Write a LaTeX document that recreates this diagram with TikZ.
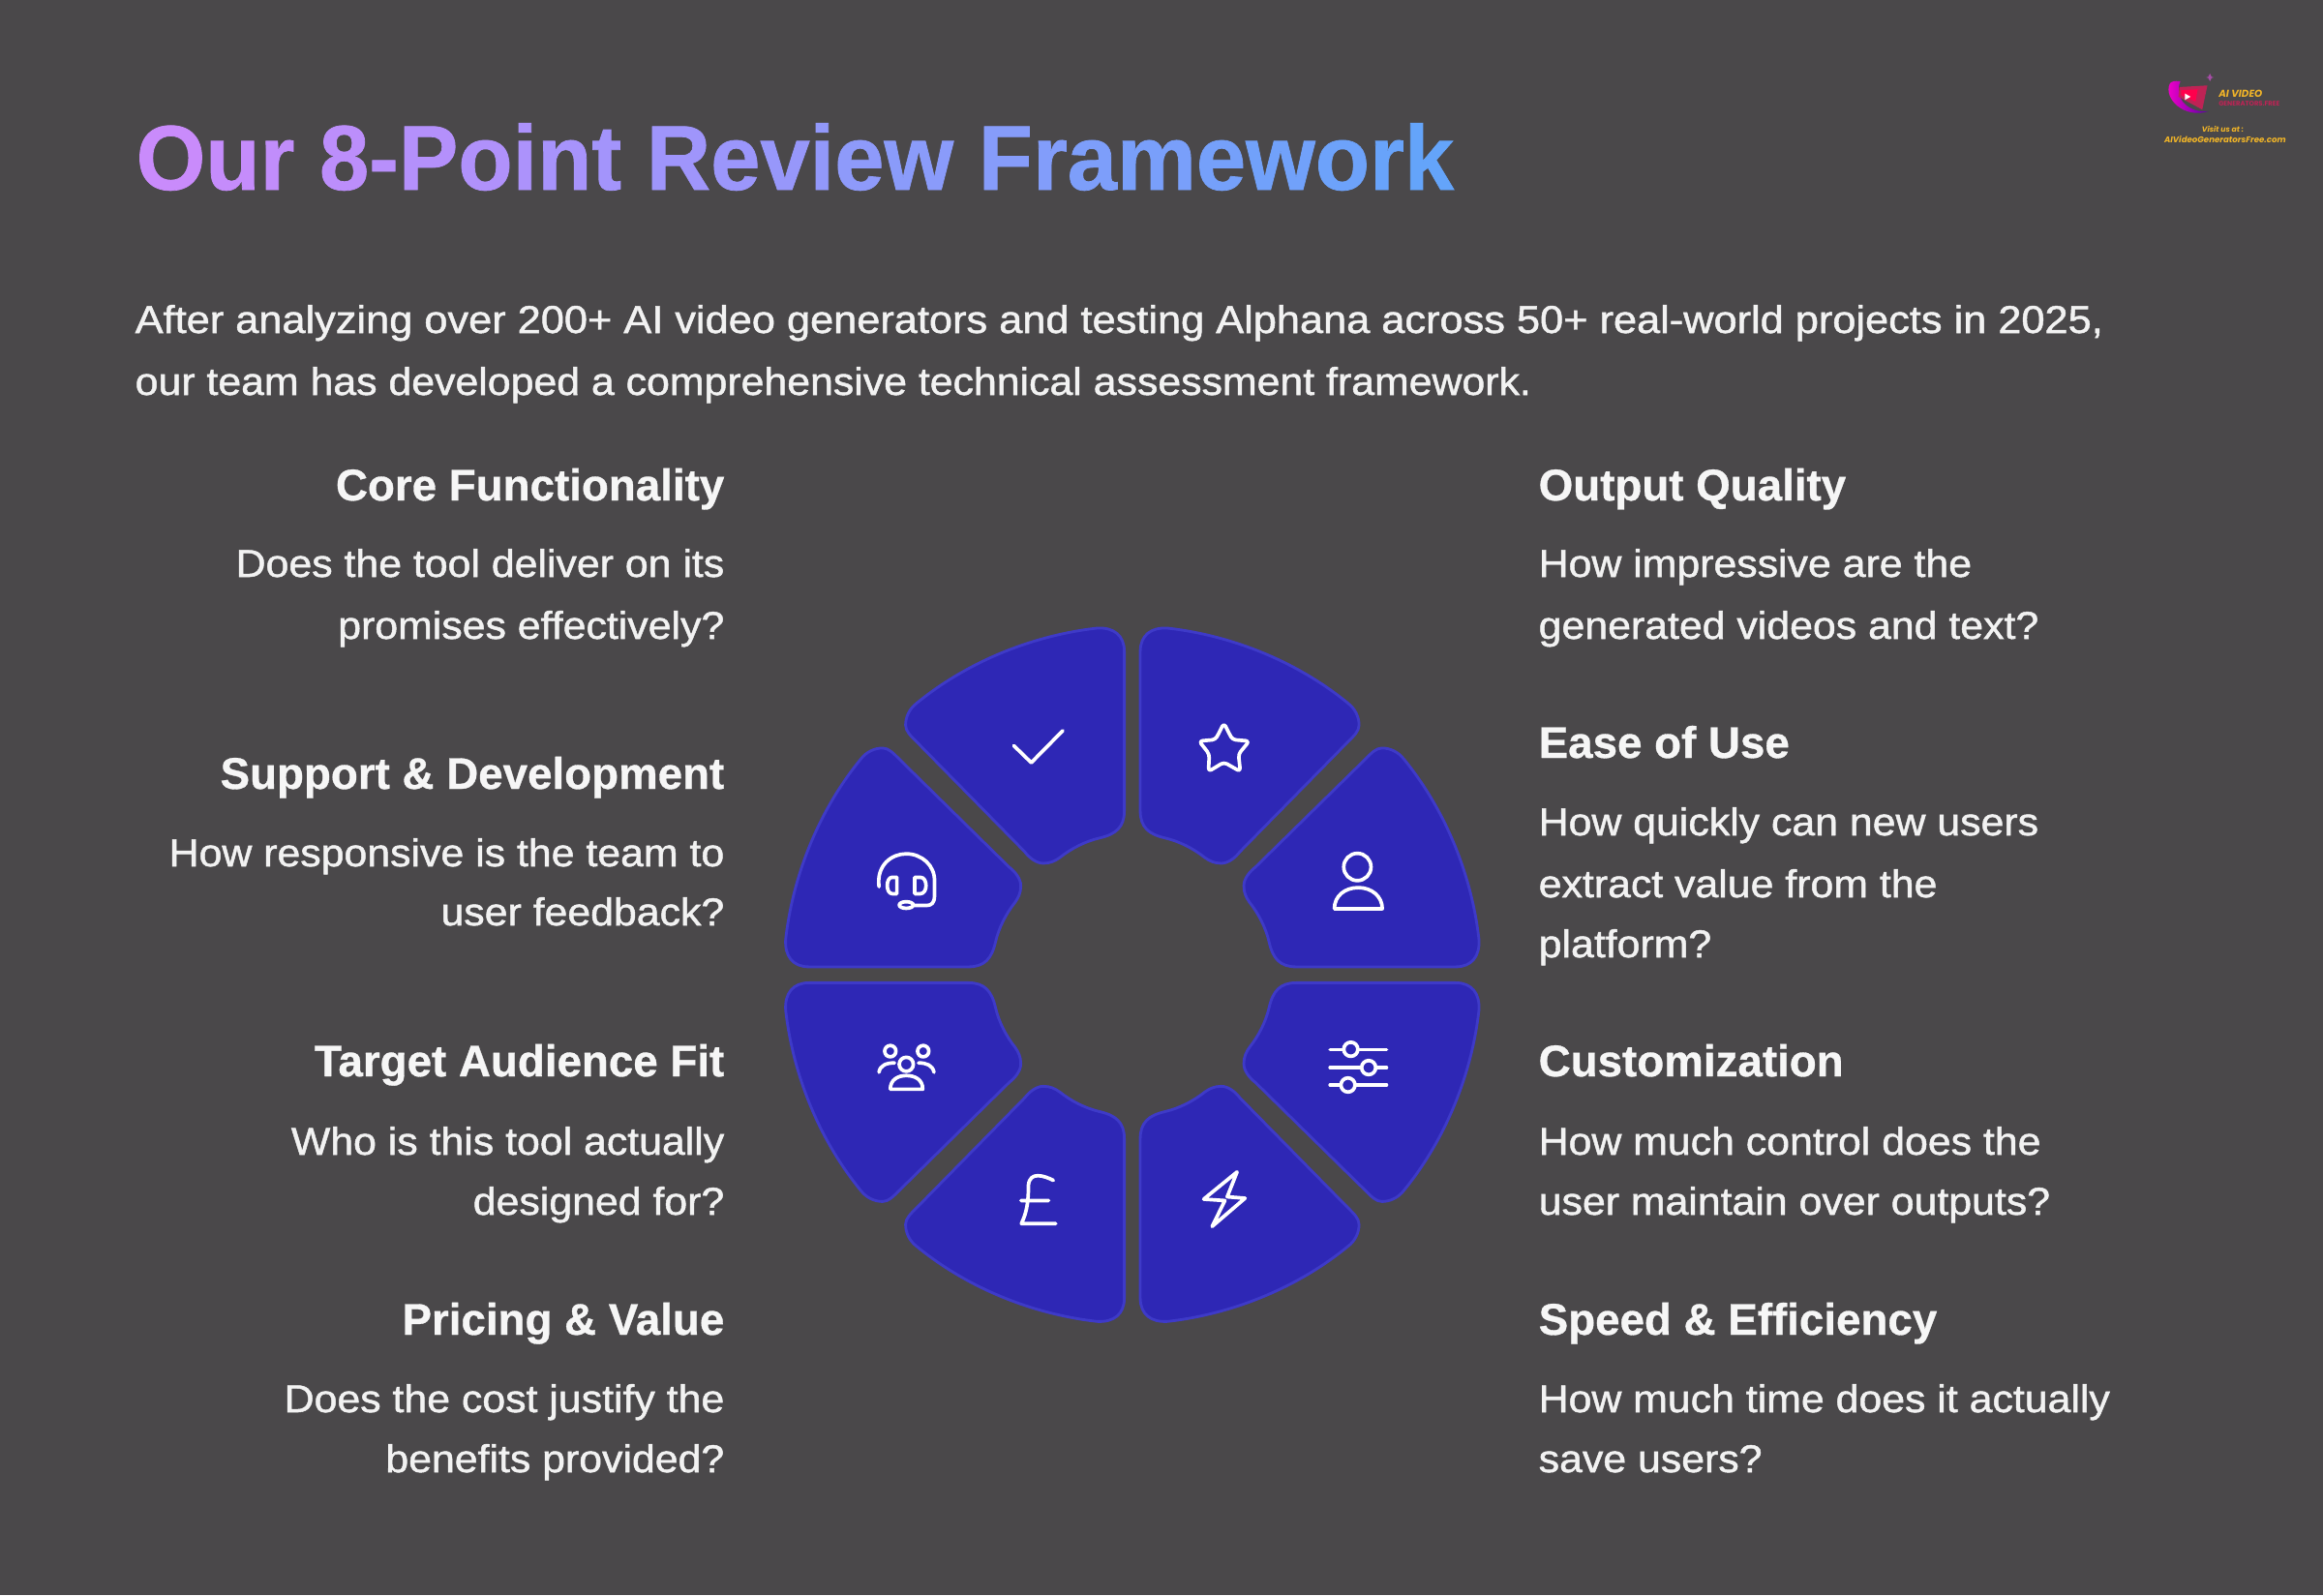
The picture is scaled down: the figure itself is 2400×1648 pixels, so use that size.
\documentclass[tikz,border=0pt]{standalone}
\usepackage{fontspec}
\setmainfont{Liberation Sans}
\newfontfamily\bodyf[FakeBold=1.2,FakeStretch=1.07]{Liberation Sans}
\newfontfamily\introf[FakeBold=1.2,FakeStretch=1.083]{Liberation Sans}
\newfontfamily\headf[FakeBold=0.7]{Liberation Sans Bold}
\newfontfamily\titlef[FakeBold=0.8,FakeStretch=0.97]{Liberation Sans Bold}
\newfontfamily\logof{Poppins}
\definecolor{bgc}{RGB}{74,72,74}
\definecolor{segfill}{RGB}{46,39,181}
\definecolor{segline}{RGB}{62,58,200}
\definecolor{tA}{RGB}{201,139,251}
\definecolor{tB}{RGB}{96,165,250}
\definecolor{logoy}{RGB}{240,180,40}
\definecolor{logor}{RGB}{190,35,85}
\newcount\gradcnt
\newcommand{\gl}[1]{\textcolor{tB!\the\gradcnt!tA}{#1}\global\advance\gradcnt by 4\relax}
\newcommand{\segpath}{
  \path[segstyle] (17,-690) .. controls (17,-725) and (40,-742) .. (75,-740)
   .. controls (210,-725) and (350,-670) .. (460,-580)
   .. controls (476,-568) and (484,-550) .. (484,-533)
   .. controls (484,-520) and (473,-510) .. (460,-497)
   -- (230,-263)
   .. controls (220,-250) and (205,-238) .. (190,-238)
   .. controls (175,-238) and (165,-243) .. (155,-250)
   .. controls (130,-270) and (100,-285) .. (70,-292)
   .. controls (35,-300) and (17,-315) .. (17,-350) -- cycle;}
\tikzset{
  segstyle/.style={fill=segfill,draw=segline,line width=0.8pt,line join=round},
  icon/.style={draw=white,line width=1.05pt,line cap=round,line join=round},
  bodytxt/.style={text=white!93!bgc,font=\bodyf\fontsize{11.38pt}{13pt}\selectfont,inner sep=0pt},
  headtxt/.style={text=white!95!bgc,font=\headf\fontsize{13pt}{15pt}\selectfont,inner sep=0pt},
  ltxt/.style={anchor=base east},
  rtxt/.style={anchor=base west},
  logotxt/.style={inner sep=0pt,text=logoy,font=\logof\bfseries\itshape}
}
\begin{document}
\begin{tikzpicture}[x=0.01cm,y=-0.01cm]
\fill[bgc] (0,0) rectangle (2400,1648);
\useasboundingbox (0,0) rectangle (2400,1648);
% title
\global\gradcnt=0
\node[anchor=base west,inner sep=0pt,font=\titlef\fontsize{27pt}{30pt}\selectfont] (title) at (140,196)
 {\gl{O}\gl{u}\gl{r} \gl{8}\gl{-}\gl{P}\gl{o}\gl{i}\gl{n}\gl{t} \gl{R}\gl{e}\gl{v}\gl{i}\gl{e}\gl{w} \gl{F}\gl{r}\gl{a}\gl{m}\gl{e}\gl{w}\gl{o}\gl{r}\gl{k}};
% intro
\node[bodytxt,rtxt,font=\introf\fontsize{11.38pt}{13pt}\selectfont] (introa) at (139,344) {After analyzing over 200+ AI video generators and testing Alphana across 50+ real-world projects in 2025,};
\node[bodytxt,rtxt] (introb) at (139,408) {our team has developed a comprehensive technical assessment framework.};
% left
\node[headtxt,ltxt] (h1) at (749,517) {Core Functionality};
\node[bodytxt,ltxt] (b1a) at (749,596) {Does the tool deliver on its};
\node[bodytxt,ltxt] (b1b) at (749,660) {promises effectively?};
\node[headtxt,ltxt] (h2) at (749,815) {Support \& Development};
\node[bodytxt,ltxt] (b2a) at (749,895) {How responsive is the team to};
\node[bodytxt,ltxt] (b2b) at (749,956) {user feedback?};
\node[headtxt,ltxt] (h3) at (749,1112) {Target Audience Fit};
\node[bodytxt,ltxt] (b3a) at (749,1193) {Who is this tool actually};
\node[bodytxt,ltxt] (b3b) at (749,1255) {designed for?};
\node[headtxt,ltxt] (h4) at (749,1379) {Pricing \& Value};
\node[bodytxt,ltxt] (b4a) at (749,1459) {Does the cost justify the};
\node[bodytxt,ltxt] (b4b) at (749,1521) {benefits provided?};
% right
\node[headtxt,rtxt] (h5) at (1589,517) {Output Quality};
\node[bodytxt,rtxt] (b5a) at (1589,596) {How impressive are the};
\node[bodytxt,rtxt] (b5b) at (1589,660) {generated videos and text?};
\node[headtxt,rtxt] (h6) at (1589,783) {Ease of Use};
\node[bodytxt,rtxt] (b6a) at (1589,863) {How quickly can new users};
\node[bodytxt,rtxt] (b6b) at (1589,927) {extract value from the};
\node[bodytxt,rtxt] (b6c) at (1589,989) {platform?};
\node[headtxt,rtxt] (h7) at (1589,1112) {Customization};
\node[bodytxt,rtxt] (b7a) at (1589,1193) {How much control does the};
\node[bodytxt,rtxt] (b7b) at (1589,1255) {user maintain over outputs?};
\node[headtxt,rtxt] (h8) at (1589,1379) {Speed \& Efficiency};
\node[bodytxt,rtxt] (b8a) at (1589,1459) {How much time does it actually};
\node[bodytxt,rtxt] (b8b) at (1589,1521) {save users?};
% wheel
\begin{scope}[shift={(780,620)},x=0.004847cm,y=-0.004847cm]
 \begin{scope}[shift={(803,797.5)},scale=0.997]
  \begin{scope} \segpath \end{scope}
  \begin{scope}[xscale=-1] \segpath \end{scope}
  \begin{scope}[yscale=-1] \segpath \end{scope}
  \begin{scope}[xscale=-1,yscale=-1] \segpath \end{scope}
  \begin{scope}[cm={0,1,1,0,(0,0)}] \segpath \end{scope}
  \begin{scope}[cm={0,-1,1,0,(0,0)}] \segpath \end{scope}
  \begin{scope}[cm={0,1,-1,0,(0,0)}] \segpath \end{scope}
  \begin{scope}[cm={0,-1,-1,0,(0,0)}] \segpath \end{scope}
 \end{scope}
 % check
 \draw[icon] (551,310) -- (588,346) -- (655,278);
 % star
 \draw[icon,rounded corners=1pt] (998,262) -- (1016,297) -- (1052,300) -- (1029,328) -- (1033,365) -- (998,345) -- (965,365) -- (967,328) -- (945,300) -- (980,297) -- cycle;
 % person
 \draw[icon] (1282,568) circle[radius=29];
 \draw[icon] (1233,657) -- (1335,657) .. controls (1335,630) and (1312,612) .. (1284,612) .. controls (1255,612) and (1233,630) .. (1233,657);
 % sliders
 \draw[icon] (1224,957) -- (1344,957) (1224,995) -- (1344,995) (1224,1032) -- (1344,1032);
 \draw[icon,fill=segfill] (1268,956) circle[radius=15] (1306,995) circle[radius=15] (1262,1032) circle[radius=15];
 % bolt
 \draw[icon] (1026,1217) -- (955,1275) -- (1000,1278) -- (973,1333) -- (1043,1273) -- (1005,1270) -- cycle;
 % pound
 \draw[icon] (635,1235) .. controls (615,1225) and (585,1215) .. (582,1245) .. controls (582,1275) and (580,1300) .. (567,1327) -- (640,1327) (566,1278) -- (625,1278);
 % users
 \draw[icon] (322,988) circle[radius=15] (288,960) circle[radius=12] (358,960) circle[radius=12];
 \draw[icon] (288,1041) -- (357,1041) .. controls (357,1020) and (340,1012) .. (322,1012) .. controls (305,1012) and (288,1020) .. (288,1041);
 \draw[icon] (264,1005) .. controls (266,990) and (280,985) .. (297,985) (381,1005) .. controls (378,990) and (365,985) .. (348,985);
 % headset
 \draw[icon] (264,610) .. controls (258,565) and (290,540) .. (322,540) .. controls (355,540) and (384,565) .. (382,600) -- (382,630) .. controls (382,645) and (375,650) .. (365,650) -- (340,650);
 \draw[icon] (322,649) ellipse[x radius=15,y radius=7];
 \draw[icon] (302,590) -- (302,625) -- (292,625) .. controls (278,625) and (278,590) .. (292,590) -- cycle;
 \draw[icon] (340,590) -- (340,625) -- (352,625) .. controls (368,625) and (368,590) .. (352,590) -- cycle;
\end{scope}
% logo
\begin{scope}[shift={(2200,60)},x=0.003333cm,y=-0.003333cm]
 \shade[left color=magenta!80!red,right color=violet!70!blue] (125,80) .. controls (105,125) and (170,190) .. (245,165) .. controls (190,172) and (135,130) .. (158,72) .. controls (140,70) and (130,72) .. (125,80) -- cycle;
 \fill[logor] (155,90) -- (242,85) -- (226,160) -- (152,120) -- cycle;
 \fill[red!70!magenta] (160,100) -- (212,97) -- (205,135) -- (160,115) -- cycle;
 \fill[white] (172,110) -- (190,120) -- (172,130) -- cycle;
 \fill[violet!70!white] (250,48) -- (255,58) -- (262,60) -- (255,62) -- (250,72) -- (245,62) -- (238,60) -- (245,58) -- cycle;
 \node[logotxt,anchor=base west,font=\logof\bfseries\itshape\fontsize{2.95pt}{3.5pt}\selectfont] (lg1) at (275,122) {AI VIDEO};
 \node[logotxt,anchor=base west,text=logor,font=\logof\bfseries\fontsize{1.95pt}{2.4pt}\selectfont] (lg2) at (275,149) {GENERATORS.FREE};
 \node[logotxt,anchor=base,font=\logof\bfseries\itshape\fontsize{2.2pt}{2.6pt}\selectfont] (lg3) at (290,229) {Visit us at :};
 \node[logotxt,anchor=base,font=\logof\bfseries\itshape\fontsize{2.45pt}{3pt}\selectfont] (lg4) at (297,262) {AIVideoGeneratorsFree.com};
\end{scope}
\end{tikzpicture}
\end{document}
